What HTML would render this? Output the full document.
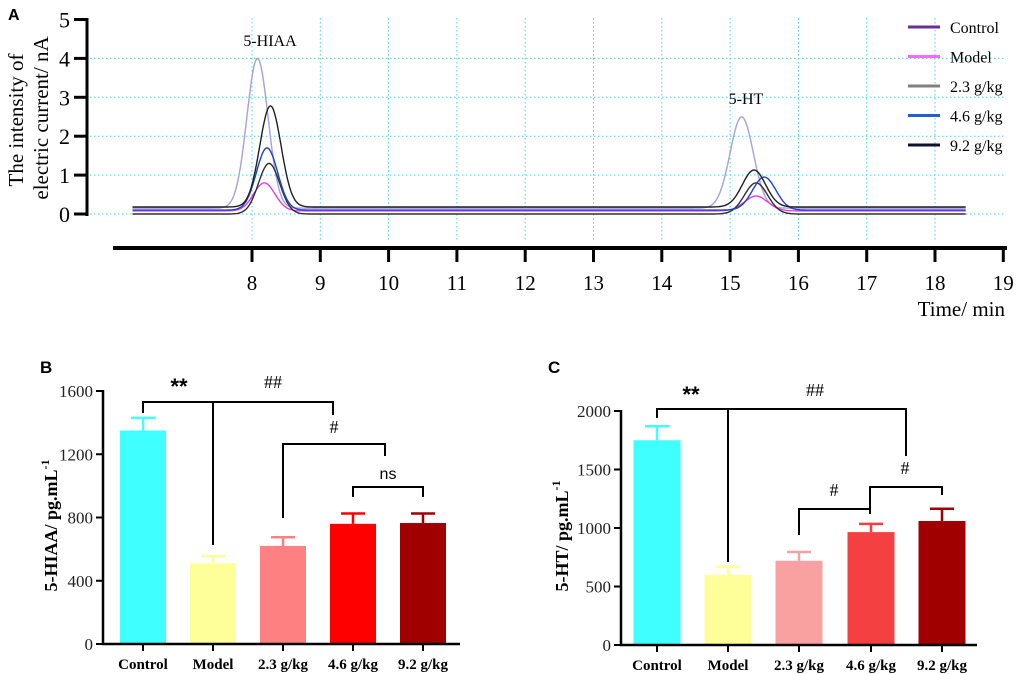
<!DOCTYPE html>
<html><head><meta charset="utf-8"><style>
body{margin:0;background:#fff;}
svg{display:block;font-family:"Liberation Serif",serif;}
</style></head><body>
<svg id="fig" width="1020" height="674" viewBox="0 0 1020 674">
<g id="pa"></g>
<g id="pb"></g>
<g id="pc"></g>
</svg>
<script>
// ---- Panel A data ----
const aSeries = ["Control","Model","2.3 g/kg","4.6 g/kg","9.2 g/kg"];
const aColors = ["#a9a0dc","#e040e0","#303030","#2040d0","#202020"];
const aLegendColors = ["#6a2ca0","#ff66ff","#808080","#2060d0","#101030"];
const aBaseline = [0.15, 0.08, 0.0, 0.1, 0.18];
const aPeak1Time = [8.08, 8.18, 8.25, 8.22, 8.27];
const aPeak1Height = [3.85, 0.72, 1.3, 1.6, 2.6];
const aPeak2Time = [15.17, 15.38, 15.38, 15.5, 15.35];
const aPeak2Height = [2.35, 0.38, 0.8, 0.85, 0.95];
const aYTicks = [0,1,2,3,4,5];
const aXTicks = [8,9,10,11,12,13,14,15,16,17,18,19];
// ---- Panel B data ----
const bCats = ["Control","Model","2.3 g/kg","4.6 g/kg","9.2 g/kg"];
const bVals = [1350,510,620,760,765];
const bErr = [80,45,55,65,60];
const bTicks = [0,400,800,1200,1600];
// ---- Panel C data ----
const cCats = ["Control","Model","2.3 g/kg","4.6 g/kg","9.2 g/kg"];
const cVals = [1750,600,720,965,1060];
const cErr = [120,70,75,70,105];
const cTicks = [0,500,1000,1500,2000];

const NS="http://www.w3.org/2000/svg";
function mk(parent,tag,attrs,text){const e=document.createElementNS(NS,tag);for(const k in attrs)e.setAttribute(k,attrs[k]);if(text!==undefined)e.textContent=text;parent.appendChild(e);return e;}

// ---- Panel A ----
(function(){
const g=document.getElementById('pa');
const xA=t=>252+(t-8)*68.3, yA=v=>214-v*38.9;
let e=mk(g,'text',{x:8,y:20,'font-family':'Liberation Sans,sans-serif','font-weight':'bold','font-size':16},'A');

aYTicks.slice(0,5).forEach(v=>{e=mk(g,'line',{x1:90,x2:1005,y1:yA(v),y2:yA(v),stroke:'#40d8d8','stroke-width':1,'stroke-dasharray':'1.5,2.5'});
});
aXTicks.slice(0,11).forEach(t=>{e=mk(g,'line',{x1:xA(t),x2:xA(t),y1:18,y2:242,stroke:'#40d8d8','stroke-width':1,'stroke-dasharray':'1.5,2.5'});
});
e=mk(g,'line',{x1:87,x2:87,y1:18,y2:216,stroke:'#000','stroke-width':3});

aYTicks.forEach(v=>{mk(g,'line',{x1:74,x2:87,y1:yA(v),y2:yA(v),stroke:'#000','stroke-width':3});
e=mk(g,'text',{x:70,y:yA(v)+8,'text-anchor':'end','font-size':22},v);
});
e=mk(g,'text',{transform:'translate(23,120) rotate(-90)','text-anchor':'middle','font-size':21},'The intensity of');

mk(g,'text',{transform:'translate(48,118) rotate(-90)','text-anchor':'middle','font-size':21},'electric current/ nA');
e=mk(g,'line',{x1:113,x2:1007,y1:248,y2:248,stroke:'#000','stroke-width':4});

aXTicks.forEach(t=>{mk(g,'line',{x1:xA(t),x2:xA(t),y1:248,y2:262,stroke:'#000','stroke-width':3});
e=mk(g,'text',{x:xA(t),y:290,'text-anchor':'middle','font-size':21},t);
});
e=mk(g,'text',{x:1005,y:316,'text-anchor':'end','font-size':21},'Time/ min');

e=mk(g,'text',{x:270,y:46,'text-anchor':'middle','font-size':16},'5-HIAA');

e=mk(g,'text',{x:746,y:104,'text-anchor':'middle','font-size':16},'5-HT');

aSeries.forEach((s,i)=>{
 let d='';
 for(let t=6.25;t<=18.45;t+=0.02){
  const v=aBaseline[i]+aPeak1Height[i]*Math.exp(-Math.pow((t-aPeak1Time[i])/0.22,2))+aPeak2Height[i]*Math.exp(-Math.pow((t-aPeak2Time[i])/0.24,2));
  d+=(d?'L':'M')+xA(t).toFixed(1)+','+yA(v).toFixed(1);
 }
 const p=mk(g,'path',{d:d,fill:'none',stroke:aColors[i],'stroke-width':1.4});
 
 
 const ly=27+i*29.5;
 const l=mk(g,'line',{x1:908,x2:940,y1:ly,y2:ly,stroke:aLegendColors[i],'stroke-width':3});
 
 const tx=mk(g,'text',{x:950,y:ly+6,'font-size':16},s);
 
});
})();

function bar(gid,ox,axisY,axisTop,maxV,axisRight,centers,w,cats,vals,errs,ticks,colors,title,letter,lx,ly,titleX){
 const g=document.getElementById(gid);
 const y=v=>axisY-(v/maxV)*(axisY-axisTop);
 let e=mk(g,'text',{x:lx,y:ly,'font-family':'Liberation Sans,sans-serif','font-weight':'bold','font-size':17},letter);
 
 vals.forEach((v,i)=>{
  const b=mk(g,'rect',{x:centers[i]-w/2,y:y(v),width:w,height:axisY-y(v),fill:colors[i]});
  
  
  const er=mk(g,'path',{d:`M${centers[i]},${y(v)}V${y(v+errs[i])}M${centers[i]-12},${y(v+errs[i])}H${centers[i]+12}`,stroke:colors[i],'stroke-width':2.5,fill:'none'});
  
  mk(g,'line',{x1:centers[i],x2:centers[i],y1:axisY,y2:axisY+7,stroke:'#000','stroke-width':2});
  const t=mk(g,'text',{x:centers[i],y:axisY+25,'text-anchor':'middle','font-weight':'bold','font-size':15},cats[i]);
  
 });
 e=mk(g,'path',{d:`M${ox},${axisTop-1}V${axisY}H${axisRight}`,stroke:'#000','stroke-width':2.5,fill:'none'});
 
 ticks.forEach(v=>{mk(g,'line',{x1:ox-7,x2:ox,y1:y(v),y2:y(v),stroke:'#000','stroke-width':2});
  const t=mk(g,'text',{x:ox-10,y:y(v)+6,'text-anchor':'end','font-size':17,fill:'#222'},v);
  });
 e=mk(g,'text',{transform:`translate(${titleX},${(axisY+axisTop)/2+8}) rotate(-90)`,'text-anchor':'middle','font-weight':'bold','font-size':18});
 e.innerHTML=title+'<tspan dy="-8" font-size="12">-1</tspan>';
 
 return g;
}
function br(g,d){const e=mk(g,'path',{d:d,stroke:'#000','stroke-width':2,fill:'none'});}
function st(g,x,yy,t,sans,fs){const e=mk(g,'text',{x:x,y:yy,'text-anchor':'middle','font-size':fs||17,'font-family':sans?'Liberation Sans,sans-serif':'Liberation Serif,serif','font-weight':sans==='b'?'bold':'normal'},t);}

const gb=bar('pb',103,644,391,1600,460,[143,213,283,353,423],46,bCats,bVals,bErr,bTicks,
 ['#40ffff','#ffff99','#ff8080','#ff0000','#a00000'],'5-HIAA/ pg.mL','B',40,373,57);
br(gb,'M143,413V402H333V415M213,402V545');
br(gb,'M283,518V444H385V456');
br(gb,'M353,497V487H423V497');
st(gb,179,394,'**','b',22);st(gb,273,388,'##',false,18);st(gb,334,433,'#',false,18);st(gb,388,479,'ns',true,16);

const gc=bar('pc',621,645,411,2000,977,[657,728,799,871,942],47,cCats,cVals,cErr,cTicks,
 ['#40ffff','#ffff99','#f9a0a0','#f44040','#a00000'],'5-HT/ pg.mL','C',548,373,568);
br(gc,'M657,418V409H906V456M728,409V562');
br(gc,'M799,535V509H870M870,514V487H942V495');
st(gc,691,402,'**','b',22);st(gc,815,396,'##',false,18);st(gc,834,496,'#',false,18);st(gc,905,474,'#',false,18);
</script>
</body></html>
